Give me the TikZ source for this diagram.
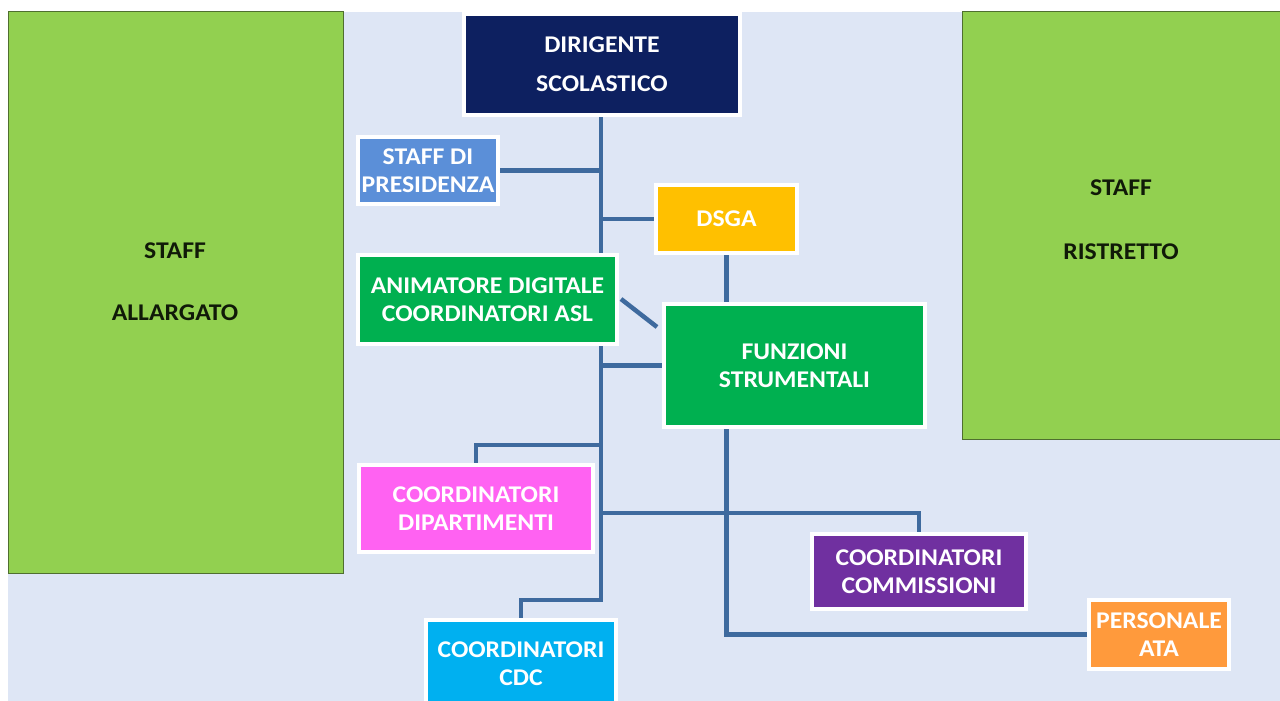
\documentclass[tikz,border=0pt]{standalone}
\usepackage{fontspec}
\setmainfont[FakeStretch=1.07]{Carlito}
\pgfdeclarelayer{back}
\pgfdeclarelayer{lines}
\pgfsetlayers{back,lines,main}
\definecolor{bgblue}{HTML}{DEE6F5}
\definecolor{staffgreen}{HTML}{92D050}
\definecolor{staffedge}{HTML}{4F6F2F}
\definecolor{navy}{HTML}{0D2060}
\definecolor{presblue}{HTML}{5B8FD8}
\definecolor{dsgay}{HTML}{FFC000}
\definecolor{mgreen}{HTML}{00B050}
\definecolor{pinkc}{HTML}{FF62F2}
\definecolor{purplec}{HTML}{7030A0}
\definecolor{orangec}{HTML}{FF9A3C}
\definecolor{cyanc}{HTML}{00B0F0}
\definecolor{linec}{HTML}{3E6A9E}
\definecolor{txtdark}{HTML}{101A08}
\begin{document}
\begin{tikzpicture}[x=1pt,y=-1pt,
  orgbox/.style={draw=white,line width=4pt,inner sep=0pt,anchor=north west,
    align=center,text=white,font=\fontsize{24}{28}\selectfont\bfseries},
  conn/.style={draw=linec,line width=4.5pt},
  stafftext/.style={text=txtdark,font=\fontsize{24}{28}\selectfont\bfseries},
  staffbox/.style={draw=staffedge,line width=1pt,fill=staffgreen}]
\useasboundingbox (0,0) rectangle (1280,701);
\begin{pgfonlayer}{back}
  \fill[white] (0,0) rectangle (1280,701);
  \fill[bgblue] (8,12) rectangle (1280,701);
  \draw[staffbox] (8,12) rectangle (343,573);
  \draw[staffbox] (962,12) rectangle (1285,439);
\end{pgfonlayer}
\node[stafftext] (sa1) at (175,251) {STAFF};
\node[stafftext] (sa2) at (175,313) {ALLARGATO};
\node[stafftext] (sr1) at (1121,188) {STAFF};
\node[stafftext] (sr2) at (1121,252) {RISTRETTO};
% boxes
\node[orgbox,fill=navy,minimum width=276pt,minimum height=101pt,
  font=\fontsize{24}{39}\selectfont\bfseries] (dir) at (462,12) {DIRIGENTE\\SCOLASTICO};
\node[orgbox,fill=presblue,minimum width=140pt,minimum height=67pt] (staff) at (356,135) {STAFF DI\\PRESIDENZA};
\node[orgbox,fill=dsgay,minimum width=141pt,minimum height=68pt] (dsga) at (654,183) {DSGA};
\node[orgbox,fill=mgreen,minimum width=259pt,minimum height=89pt] (anim) at (356,253) {ANIMATORE DIGITALE\\COORDINATORI ASL};
\node[orgbox,fill=mgreen,minimum width=261pt,minimum height=123pt] (funz) at (662,302) {FUNZIONI\\STRUMENTALI};
\node[orgbox,fill=pinkc,minimum width=234pt,minimum height=87pt] (dip) at (357,463) {COORDINATORI\\DIPARTIMENTI};
\node[orgbox,fill=purplec,minimum width=214pt,minimum height=75pt] (comm) at (810,532) {COORDINATORI\\COMMISSIONI};
\node[orgbox,fill=orangec,minimum width=140pt,minimum height=69pt] (ata) at (1087,598) {PERSONALE\\ATA};
\node[orgbox,fill=cyanc,minimum width=190pt,minimum height=88pt] (cdc) at (424,618) {COORDINATORI\\CDC};
% junction coordinates
\coordinate (tx) at (601,0);
\coordinate (jdip) at (601,445);
\coordinate (jcomm) at (601,513);
\coordinate (jcdc) at (601,600);
\coordinate (ddiag) at (621,299);
\coordinate (fdiag) at (657,327);
\begin{pgfonlayer}{lines}
  \draw[conn] (dir.south -| tx) -- (jcdc) -| (cdc.north);
  \draw[conn] (staff.east) -- (staff.east -| tx);
  \draw[conn] (dsga.west) -- (dsga.west -| tx);
  \draw[conn] (funz.west) -- (funz.west -| tx);
  \draw[conn] (dsga.south) -- (dsga.south |- funz.north);
  \draw[conn] (ddiag) -- (fdiag);
  \draw[conn] (jdip) -| (dip.north);
  \draw[conn] (jcomm) -| (comm.north);
  \draw[conn] (funz.south -| dsga.south) |- (ata.west);
\end{pgfonlayer}
\end{tikzpicture}
\end{document}
